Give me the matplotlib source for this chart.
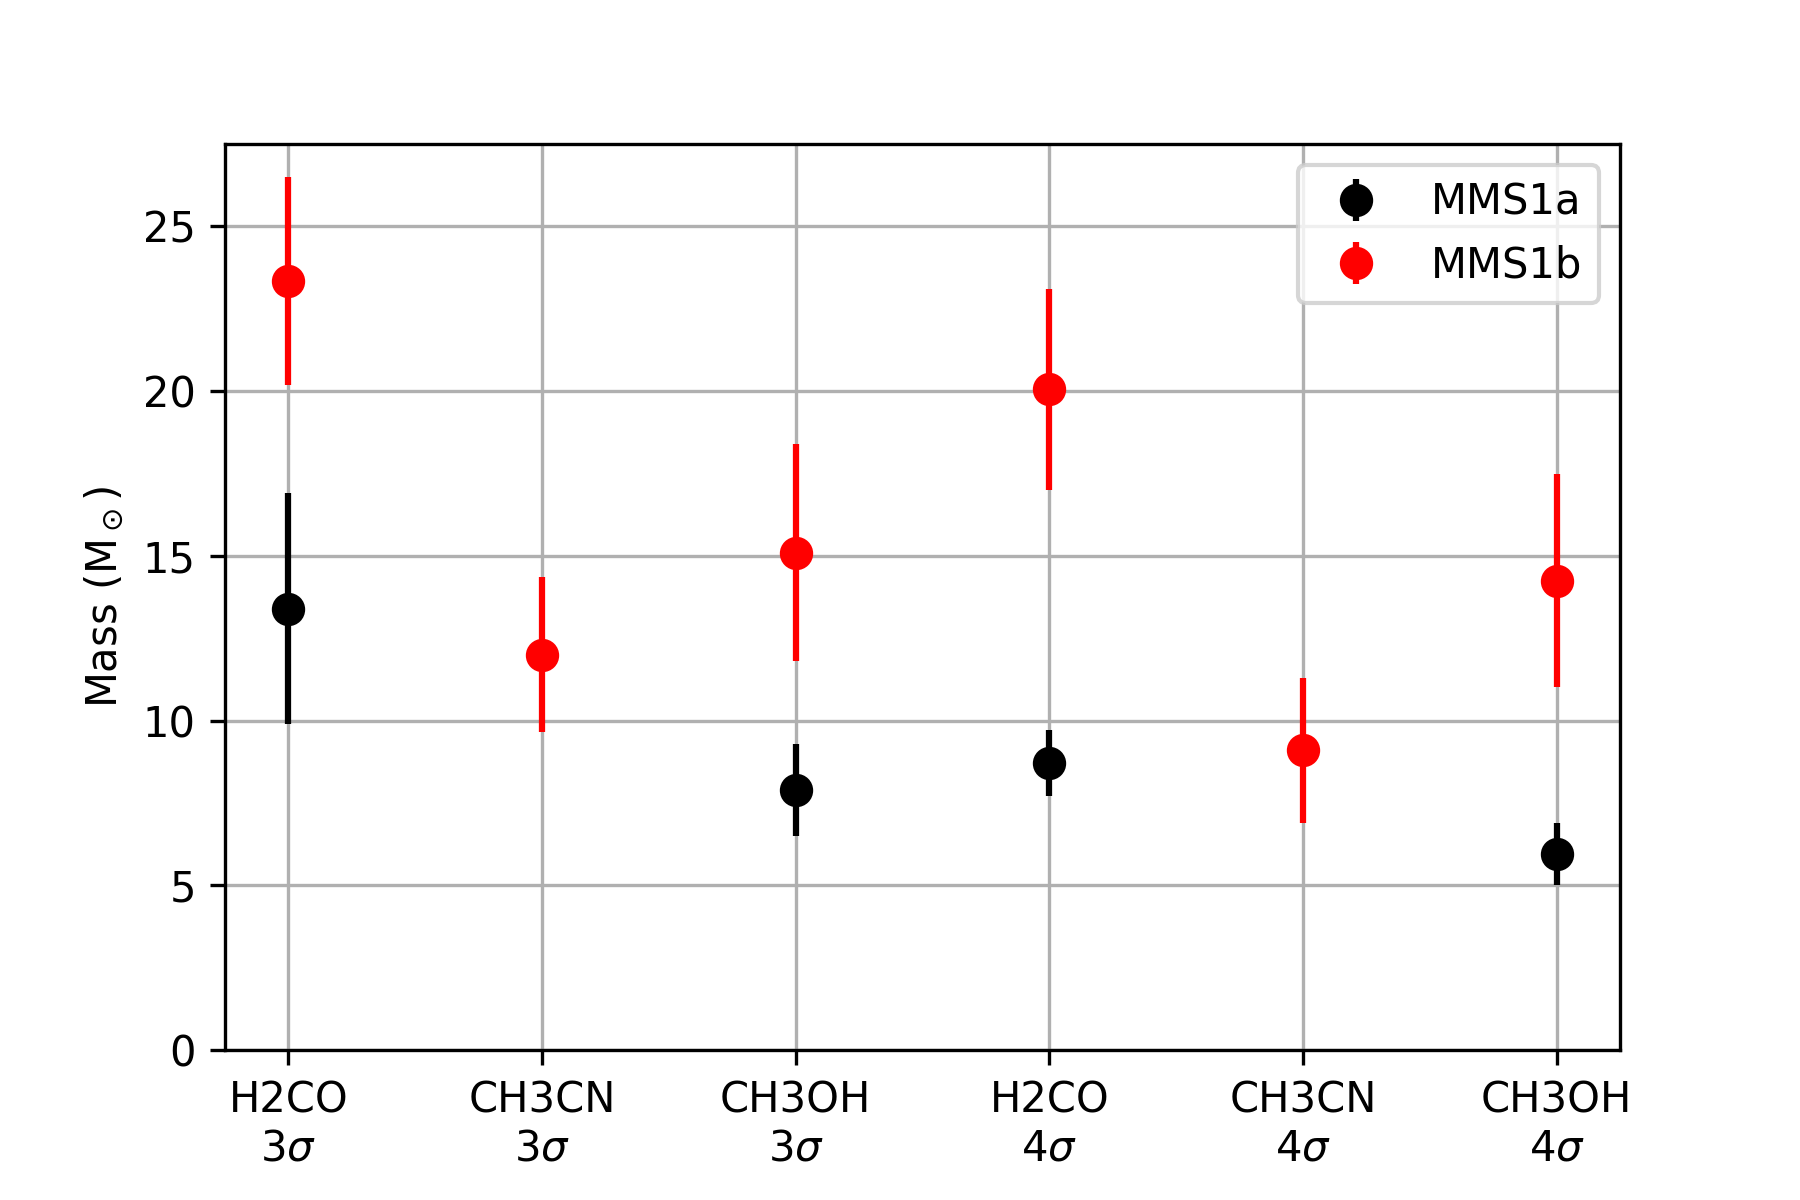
import numpy as np
import matplotlib.pyplot as plt

labels = ["H2CO\n3$\\sigma$", "CH3CN\n3$\\sigma$", "CH3OH\n3$\\sigma$",
          "H2CO\n4$\\sigma$", "CH3CN\n4$\\sigma$", "CH3OH\n4$\\sigma$"]

mms1a_mass = [13.4, np.nan, 7.9, 8.7, np.nan, 5.95]
mms1a_err = [3.5, np.nan, 1.4, 1.0, np.nan, 0.95]

mms1b_mass = [23.35, 12.0, 15.1, 20.05, 9.1, 14.25]
mms1b_err = [3.15, 2.35, 3.3, 3.05, 2.2, 3.23]

x = np.arange(len(labels))

fig, ax = plt.subplots(figsize=(6, 4))
fig.subplots_adjust(bottom=0.125)
ax.errorbar(x, mms1a_mass, yerr=mms1a_err, fmt="o", color="black",
            markersize=7, elinewidth=1.5, label="MMS1a")
ax.errorbar(x, mms1b_mass, yerr=mms1b_err, fmt="o", color="red",
            markersize=7, elinewidth=1.5, label="MMS1b")

ax.set_xticks(x)
ax.set_xticklabels(labels)
ax.set_xlim(-0.25, 5.25)
ax.set_ylim(0, 27.5)
ax.set_ylabel(r"Mass (M$_\odot$)")
ax.grid(True)
ax.legend(loc="upper right")

fig.savefig("out.png", dpi=300)
